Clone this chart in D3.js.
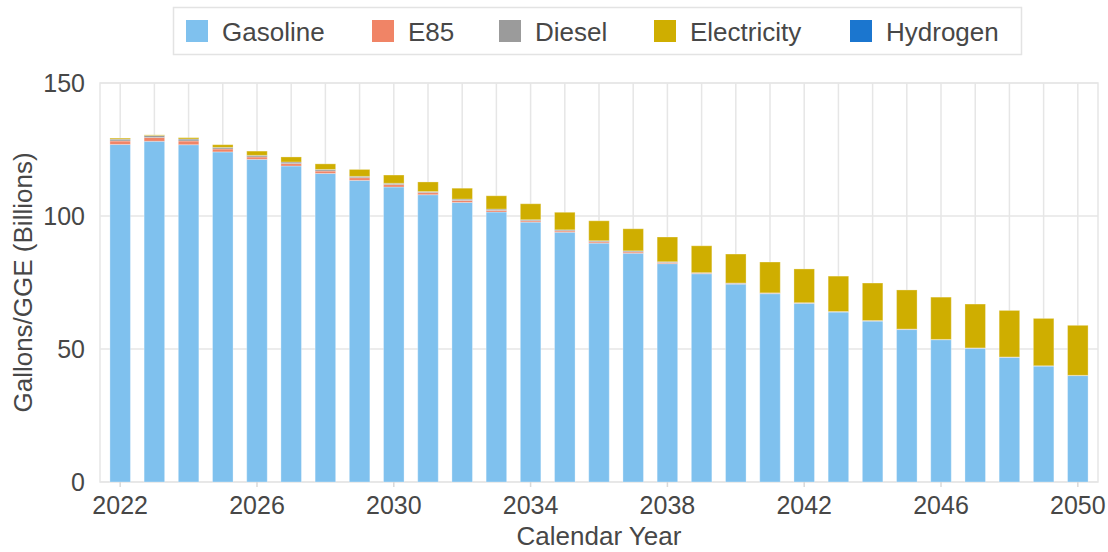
<!DOCTYPE html>
<html>
<head>
<meta charset="utf-8">
<script src="https://cdn.jsdelivr.net/npm/d3@7"></script>
<style>
  html, body { margin: 0; padding: 0; background: #fff; }
  svg text { font-family: "Liberation Sans", Arial, sans-serif; fill: #474747; }
</style>
</head>
<body>
<svg id="chart" width="1108" height="552"></svg>
<script>
const years = [2022,2023,2024,2025,2026,2027,2028,2029,2030,2031,2032,2033,2034,2035,2036,2037,2038,2039,2040,2041,2042,2043,2044,2045,2046,2047,2048,2049,2050];
const seriesNames = ["Gasoline","E85","Diesel","Electricity","Hydrogen"];
const gasoline    = [126.9,128.1,126.8,124.1,121.3,118.8,116.0,113.4,110.9,108.0,105.1,101.5,97.7,93.9,89.8,86.0,82.1,78.3,74.4,70.8,67.2,63.9,60.5,57.3,53.5,50.3,46.9,43.6,40.0];
const e85         = [1.3,1.4,1.4,1.1,0.9,0.9,0.9,1.0,0.9,0.8,0.75,0.6,0.5,0.5,0.5,0.5,0.4,0.2,0.2,0.15,0.1,0.1,0.1,0.1,0.05,0.05,0.05,0.05,0.05];
const diesel      = [0.7,0.75,0.75,0.6,0.6,0.6,0.6,0.5,0.5,0.4,0.5,0.5,0.4,0.4,0.4,0.4,0.3,0.2,0.2,0.15,0.1,0.1,0.1,0.1,0.05,0.05,0.05,0.05,0.05];
const electricity = [0.4,0.25,0.5,1.0,1.6,1.9,2.1,2.6,3.1,3.6,4.1,5.0,6.0,6.6,7.5,8.3,9.3,10.1,10.9,11.6,12.7,13.3,14.1,14.7,15.9,16.5,17.5,17.8,18.8];
const hydrogen    = [0,0,0,0,0,0,0,0,0,0,0,0,0,0,0,0,0,0,0,0,0,0,0,0,0,0,0,0,0];
const colors = ["#7fc1ee","#f08466","#9b9b9b","#cfae00","#1b76cf"];
const yTicks = [0,50,100,150];
const xTickYears = [2022,2026,2030,2034,2038,2042,2046,2050];

const table = years.map((yr,i) => ({
  year: yr, Gasoline: gasoline[i], E85: e85[i], Diesel: diesel[i], Electricity: electricity[i], Hydrogen: hydrogen[i]
}));

const svg = d3.select("#chart");
const L = 100, R = 1098, T = 83, B = 482;

const x = d3.scaleBand().domain(years).range([L, R]).paddingInner(0.4).paddingOuter(0.29);
const y = d3.scaleLinear().domain([0,150]).range([B, T]);
const color = d3.scaleOrdinal().domain(seriesNames).range(colors);

const grid = "#e6e6e6";
svg.append("g").selectAll("line").data(yTicks).join("line")
  .attr("x1", L).attr("x2", R).attr("y1", d => y(d)).attr("y2", d => y(d))
  .attr("stroke", grid).attr("stroke-width", 1.5);
svg.append("g").selectAll("line").data(years).join("line")
  .attr("x1", d => x(d) + x.bandwidth()/2).attr("x2", d => x(d) + x.bandwidth()/2)
  .attr("y1", T).attr("y2", B)
  .attr("stroke", grid).attr("stroke-width", 1.5);
svg.append("rect").attr("x", L).attr("y", T).attr("width", R - L).attr("height", B - T)
  .attr("fill", "none").attr("stroke", grid).attr("stroke-width", 1.5);

const stack = d3.stack().keys(seriesNames);
const stacked = stack(table);
svg.append("g").selectAll("g").data(stacked).join("g")
  .attr("fill", d => color(d.key))
  .selectAll("rect").data(d => d).join("rect")
  .attr("x", d => x(d.data.year))
  .attr("width", x.bandwidth())
  .attr("y", d => y(d[1]))
  .attr("height", d => Math.max(0, y(d[0]) - y(d[1])))
  .attr("stroke", "#ffffff").attr("stroke-opacity", 0.3).attr("stroke-width", 1);

const xAxis = d3.axisBottom(x).tickValues(xTickYears).tickSize(5).tickPadding(7);
const gx = svg.append("g").attr("transform", `translate(0,${B})`).call(xAxis);
gx.select(".domain").remove();
gx.selectAll(".tick line").attr("stroke", "#d9d9d9").attr("stroke-width", 1.5);
gx.selectAll(".tick text").attr("font-size", 25).attr("dy", "0.78em").style("fill", "#474747");

const yAxis = d3.axisLeft(y).tickValues(yTicks).tickSize(0).tickPadding(15);
const gy = svg.append("g").attr("transform", `translate(${L},0)`).call(yAxis);
gy.select(".domain").remove();
gy.selectAll(".tick text").attr("font-size", 25).style("fill", "#474747");

svg.append("text").attr("x", (L + R) / 2).attr("y", 545).attr("text-anchor", "middle")
  .attr("font-size", 26).text("Calendar Year");
svg.append("text").attr("transform", `translate(32,${(T + B) / 2}) rotate(-90)`)
  .attr("text-anchor", "middle").attr("font-size", 26).text("Gallons/GGE (Billions)");

const legend = svg.append("g");
legend.append("rect").attr("x", 173.5).attr("y", 7.5).attr("width", 848).attr("height", 47)
  .attr("fill", "#fff").attr("stroke", "#e3e3e3").attr("stroke-width", 1.5);
const legX = [186, 372, 499, 654, 850];
const items = legend.selectAll("g.item").data(seriesNames).join("g").attr("class", "item")
  .attr("transform", (d, i) => `translate(${legX[i]},20)`);
items.append("rect").attr("width", 22).attr("height", 22).attr("fill", d => color(d));
items.append("text").attr("x", 36).attr("y", 21).attr("font-size", 26).text(d => d);
</script>
</body>
</html>
